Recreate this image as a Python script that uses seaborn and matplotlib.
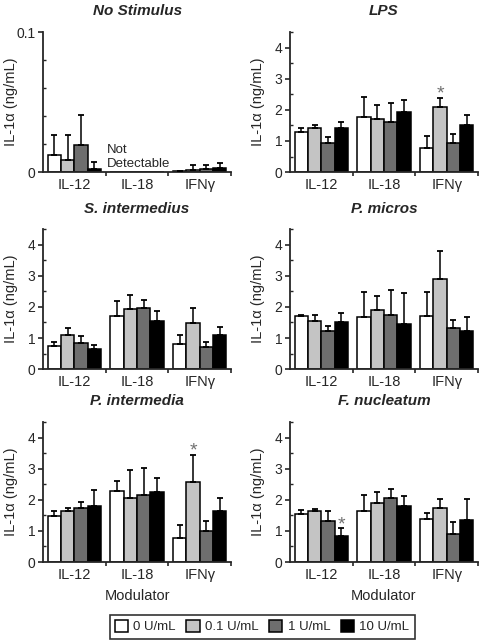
import numpy as np
import pandas as pd
import matplotlib
matplotlib.use("Agg")
import matplotlib.pyplot as plt
from matplotlib.patches import Patch
from matplotlib.ticker import MultipleLocator, FixedLocator
import seaborn as sns

modulators = ["IL-12", "IL-18", "IFNγ"]
doses = ["0 U/mL", "0.1 U/mL", "1 U/mL", "10 U/mL"]
dose_colors = ["#ffffff", "#c4c4c4", "#6e6e6e", "#000000"]

titles = ["No Stimulus", "LPS", "S. intermedius", "P. micros", "P. intermedia", "F. nucleatum"]

nan = np.nan
# mean values, rows = modulator, cols = dose
no_stim_mean = [[0.0123, 0.0088, 0.019, 0.0024], [0, 0, 0, 0], [0.0005, 0.0015, 0.002, 0.003]]
no_stim_err = [[0.0142, 0.018, 0.022, 0.0046], [nan, nan, nan, nan], [0.0006, 0.0032, 0.0027, 0.0038]]
lps_mean = [[1.29, 1.41, 0.95, 1.41], [1.77, 1.70, 1.61, 1.93], [0.77, 2.09, 0.93, 1.51]]
lps_err = [[0.14, 0.11, 0.19, 0.21], [0.65, 0.47, 0.62, 0.38], [0.38, 0.30, 0.30, 0.33]]
sint_mean = [[0.76, 1.11, 0.84, 0.64], [1.72, 1.95, 1.96, 1.56], [0.82, 1.47, 0.71, 1.10]]
sint_err = [[0.11, 0.21, 0.22, 0.15], [0.48, 0.44, 0.27, 0.32], [0.29, 0.51, 0.16, 0.27]]
pmic_mean = [[1.70, 1.54, 1.24, 1.53], [1.67, 1.91, 1.75, 1.45], [1.72, 2.89, 1.32, 1.22]]
pmic_err = [[0.04, 0.21, 0.16, 0.27], [0.82, 0.45, 0.80, 0.99], [0.76, 0.92, 0.27, 0.45]]
pint_mean = [[1.49, 1.64, 1.75, 1.80], [2.27, 2.07, 2.14, 2.25], [0.76, 2.57, 1.00, 1.64]]
pint_err = [[0.14, 0.10, 0.18, 0.52], [0.32, 0.90, 0.87, 0.44], [0.43, 0.88, 0.32, 0.42]]
fnuc_mean = [[1.54, 1.64, 1.32, 0.85], [1.63, 1.90, 2.07, 1.79], [1.37, 1.75, 0.90, 1.35]]
fnuc_err = [[0.13, 0.06, 0.31, 0.23], [0.53, 0.35, 0.29, 0.33], [0.19, 0.26, 0.39, 0.66]]

means = [no_stim_mean, lps_mean, sint_mean, pmic_mean, pint_mean, fnuc_mean]
errs = [no_stim_err, lps_err, sint_err, pmic_err, pint_err, fnuc_err]
# significance stars: panel -> list of (modulator, dose)
stars = {1: [("IFNγ", "0.1 U/mL")], 4: [("IFNγ", "0.1 U/mL")], 5: [("IL-12", "10 U/mL")]}

sns.set_style("ticks")
plt.rcParams["font.family"] = ["Liberation Sans", "DejaVu Sans"]
plt.rcParams["axes.linewidth"] = 1.3

fig = plt.figure(figsize=(4.8, 6.42), dpi=100)
lefts = [0.0896, 0.604]
bottoms = [0.732, 0.425, 0.1246]
w, h = 0.392, 0.218

for i in range(6):
    r, c = divmod(i, 2)
    ax = fig.add_axes([lefts[c], bottoms[r], w, h])
    rows = []
    for mi, m in enumerate(modulators):
        for di, d in enumerate(doses):
            rows.append({"mod": m, "dose": d, "val": means[i][mi][di], "err": errs[i][mi][di]})
    df = pd.DataFrame(rows)
    sns.barplot(data=df, x="mod", y="val", hue="dose", order=modulators, hue_order=doses,
                palette=dose_colors, saturation=1, edgecolor="black", linewidth=1.1,
                width=0.85, errorbar=None, legend=False, ax=ax)
    # error bars (upper only), matched to bars by position
    bars = sorted(ax.patches, key=lambda p: p.get_x())
    for p, (_, row) in zip(bars, df.iterrows()):
        if np.isnan(row["err"]):
            continue
        xc = p.get_x() + p.get_width() / 2
        top = p.get_height()
        ax.errorbar(xc, top, yerr=[[0], [row["err"]]], fmt="none", ecolor="black",
                    elinewidth=1.1, capsize=2.5, capthick=1.3, zorder=3)
        for (sm, sd) in stars.get(i, []):
            if sm == row["mod"] and sd == row["dose"]:
                ax.text(xc, top + row["err"] + 0.12, "*", ha="center", va="center",
                        fontsize=14, color="#707070")

    sns.despine(ax=ax)
    ax.set_xlim(-0.5, 2.5)
    if i == 0:
        ax.set_ylim(0, 0.1)
        ax.set_yticks([0, 0.1])
        ax.set_yticklabels(["0", "0.1"])
        ax.yaxis.set_minor_locator(MultipleLocator(0.02))
        ax.text(0.52, 0.0012, "Not\nDetectable", ha="left", va="bottom", fontsize=9.5,
                linespacing=1.25)
    else:
        ax.set_ylim(0, 4.5)
        ax.set_yticks([0, 1, 2, 3, 4])
        ax.yaxis.set_minor_locator(MultipleLocator(0.5))
    ax.xaxis.set_minor_locator(FixedLocator([0.5, 1.5, 2.5]))
    ax.tick_params(axis="x", which="major", length=0, labelsize=10.5, pad=4)
    ax.tick_params(axis="x", which="minor", direction="out", length=3, width=1.2)
    ax.tick_params(axis="y", which="major", direction="out", length=3.5, width=1.2, labelsize=10, pad=2)
    ax.tick_params(axis="y", which="minor", direction="in", length=2.5, width=1.0)
    ax.set_ylabel("IL-1α (ng/mL)", fontsize=10.5)
    ax.yaxis.set_label_coords(-0.135, 0.5)
    if r == 2:
        ax.set_xlabel("Modulator", fontsize=10.5, labelpad=5)
    else:
        ax.set_xlabel("")
    ax.set_title(titles[i], fontsize=11, fontweight="bold", fontstyle="italic", pad=12)

handles = [Patch(facecolor=col, edgecolor="black", linewidth=1.1) for col in dose_colors]
leg = fig.legend(handles, doses, loc="center", bbox_to_anchor=(0.546, 0.024), ncol=4,
                 fontsize=9.5, frameon=True, fancybox=False, handlelength=1.0,
                 handleheight=1.0, handletextpad=0.4, columnspacing=0.8,
                 borderpad=0.4, edgecolor="black")
leg.get_frame().set_linewidth(1.2)

fig.savefig("out.png", dpi=100)
